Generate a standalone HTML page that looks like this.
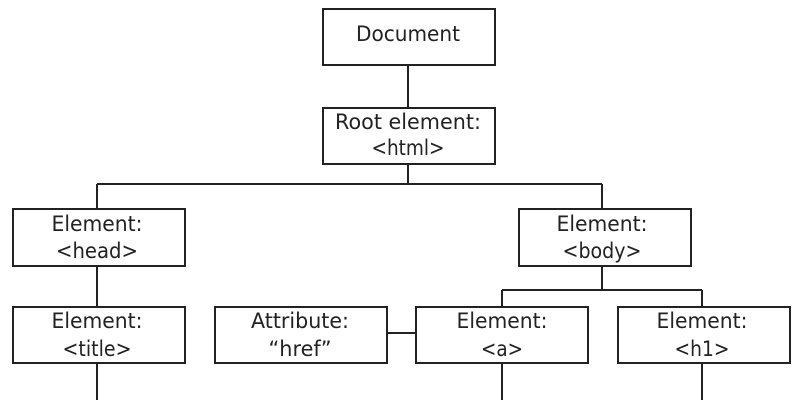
<!DOCTYPE html>
<html><head><style>
html,body{margin:0;padding:0;background:#fff;width:800px;height:400px;overflow:hidden}
svg text{font-family:"DejaVu Sans","Liberation Sans",sans-serif;font-size:21px;fill:#222;text-anchor:middle}
</style></head><body>
<svg width="800" height="400" viewBox="0 0 800 400" xmlns="http://www.w3.org/2000/svg">
<g stroke="#222" stroke-width="2" fill="none">
<rect x="323" y="9" width="172" height="56"/>
<rect x="323" y="108" width="172" height="56"/>
<rect x="13" y="209" width="172" height="57"/>
<rect x="519" y="209" width="172" height="57"/>
<rect x="13" y="307" width="172" height="56"/>
<rect x="215" y="307" width="172" height="56"/>
<rect x="416" y="307" width="172" height="56"/>
<rect x="618" y="307" width="172" height="56"/>
<line x1="408" y1="65" x2="408" y2="108"/>
<line x1="408" y1="164" x2="408" y2="184"/>
<line x1="97" y1="184" x2="602" y2="184"/>
<line x1="97" y1="184" x2="97" y2="209"/>
<line x1="602" y1="184" x2="602" y2="209"/>
<line x1="97" y1="266" x2="97" y2="307"/>
<line x1="602" y1="266" x2="602" y2="290"/>
<line x1="502" y1="290" x2="702" y2="290"/>
<line x1="502" y1="290" x2="502" y2="307"/>
<line x1="702" y1="290" x2="702" y2="307"/>
<line x1="387" y1="333" x2="416" y2="333"/>
<line x1="97" y1="363" x2="97" y2="400"/>
<line x1="502" y1="363" x2="502" y2="400"/>
<line x1="702" y1="363" x2="702" y2="400"/>
</g>
<g>
<text x="408" y="41" textLength="104" lengthAdjust="spacingAndGlyphs">Document</text>
<text x="408" y="129" textLength="146" lengthAdjust="spacingAndGlyphs">Root element:</text>
<text x="408" y="155" textLength="73" lengthAdjust="spacingAndGlyphs">&lt;html&gt;</text>
<text x="97" y="231" textLength="91" lengthAdjust="spacingAndGlyphs">Element:</text>
<text x="97" y="258" textLength="82" lengthAdjust="spacingAndGlyphs">&lt;head&gt;</text>
<text x="602" y="231" textLength="91" lengthAdjust="spacingAndGlyphs">Element:</text>
<text x="602" y="258" textLength="79" lengthAdjust="spacingAndGlyphs">&lt;body&gt;</text>
<text x="97" y="328" textLength="91" lengthAdjust="spacingAndGlyphs">Element:</text>
<text x="97" y="356" textLength="69" lengthAdjust="spacingAndGlyphs">&lt;title&gt;</text>
<text x="300" y="328" textLength="98" lengthAdjust="spacingAndGlyphs">Attribute:</text>
<text x="300" y="356" textLength="63" lengthAdjust="spacingAndGlyphs">“href”</text>
<text x="502" y="328" textLength="91" lengthAdjust="spacingAndGlyphs">Element:</text>
<text x="502" y="356" textLength="42" lengthAdjust="spacingAndGlyphs">&lt;a&gt;</text>
<text x="702" y="328" textLength="91" lengthAdjust="spacingAndGlyphs">Element:</text>
<text x="702" y="356" textLength="55" lengthAdjust="spacingAndGlyphs">&lt;h1&gt;</text>
</g>
</svg>
</body></html>
